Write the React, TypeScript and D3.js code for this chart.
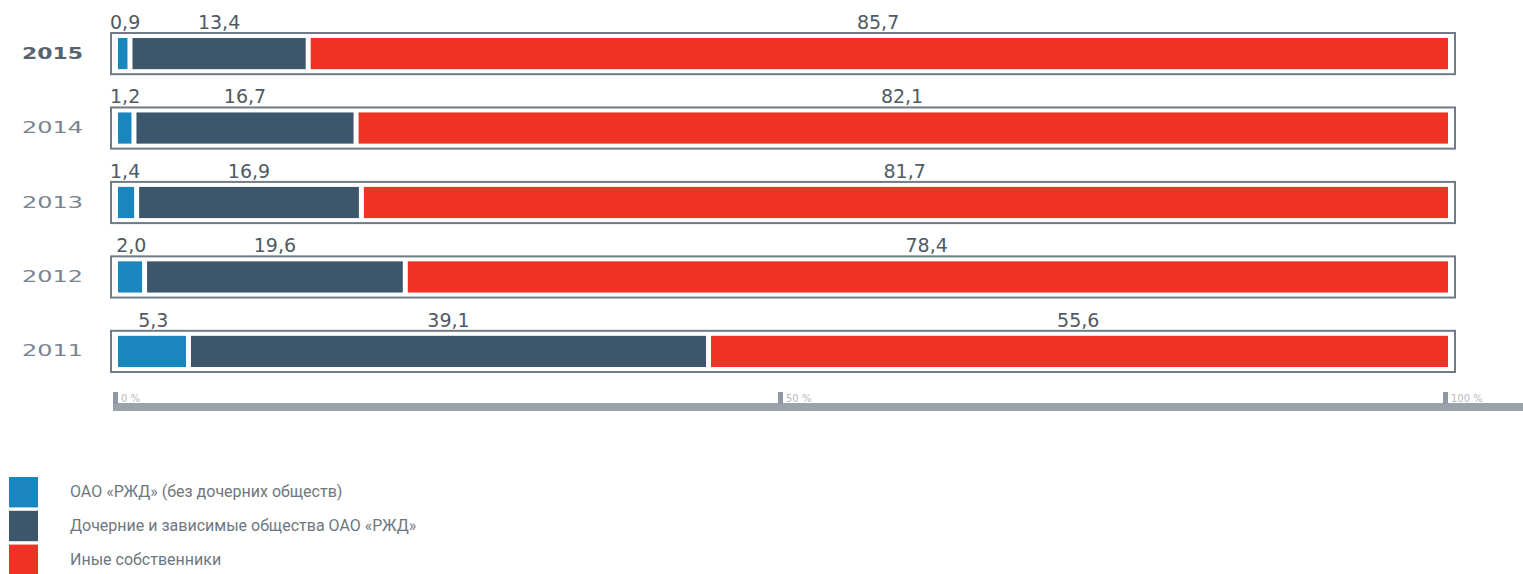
import React from "react";
import * as d3 from "d3";

const years = ["2015", "2014", "2013", "2012", "2011"];
const rzd = [0.9, 1.2, 1.4, 2.0, 5.3];
const subsidiaries = [13.4, 16.7, 16.9, 19.6, 39.1];
const others = [85.7, 82.1, 81.7, 78.4, 55.6];
const seriesNames = [
  "ОАО «РЖД» (без дочерних обществ)",
  "Дочерние и зависимые общества ОАО «РЖД»",
  "Иные собственники",
];
const seriesColors = ["#1a86c0", "#3c566b", "#ee3224"];
const axisTicks = [0, 50, 100];

const W = 1523;
const H = 574;

export default function App() {
  const x = d3.scaleLinear().domain([0, 100]).range([118, 1448]);
  const y = d3.scaleBand().domain(years).range([32, 373]).paddingInner(0.42).paddingOuter(0);
  const bh = y.bandwidth();
  const fmt = (v: number) => v.toFixed(1).replace(".", ",");
  const series = [rzd, subsidiaries, others];
  const legendY = d3.scaleBand().domain(seriesNames).range([477, 575]).paddingInner(0.1);

  return (
    <svg width={W} height={H} style={{ position: "absolute", left: 0, top: 0, background: "#fff" }}>
      {years.map((yr, i) => {
        const top = y(yr)!;
        let cum = 0;
        const segs = series.map((s, k) => {
          const v0 = cum;
          cum += s[i];
          return { k, v0, v1: cum, v: s[i] };
        });
        return (
          <g key={yr}>
            <text
              x={22}
              y={top + bh / 2 + 5}
              fontFamily="DejaVu Sans, sans-serif"
              fontSize={15}
              fontWeight={i === 0 ? 700 : 400}
              fill={i === 0 ? "#59636e" : "#7b848d"}
              textLength={61}
              lengthAdjust="spacingAndGlyphs"
            >
              {yr}
            </text>
            <rect
              x={111}
              y={top + 1}
              width={1344}
              height={bh - 2}
              fill="#fff"
              stroke="#6f7b87"
              strokeWidth={2}
            />
            {segs.map((sg) => {
              const x0 = x(sg.v0) + (sg.k > 0 ? 2.5 : 0);
              const x1 = x(Math.min(sg.v1, 100)) - (sg.k < 2 ? 2.5 : 0);
              return (
                <rect
                  key={sg.k}
                  x={x0}
                  y={top + 6}
                  width={Math.max(0, x1 - x0)}
                  height={bh - 12}
                  fill={seriesColors[sg.k]}
                />
              );
            })}
            {segs.map((sg) => {
              const c = (x(sg.v0) + x(Math.min(sg.v1, 100))) / 2;
              const clamped = c - 18 < 110;
              return (
                <text
                  key={"l" + sg.k}
                  x={clamped ? 110 : c}
                  y={top - 3}
                  textAnchor={clamped ? "start" : "middle"}
                  fontFamily="DejaVu Sans, sans-serif"
                  fontSize={19}
                  fill="#4f5a64"
                >
                  {fmt(sg.v)}
                </text>
              );
            })}
          </g>
        );
      })}
      <rect x={113} y={403} width={W - 113} height={8} fill="#9aa2ac" />
      {axisTicks.map((t) => (
        <g key={t}>
          <rect x={x(t) - 5} y={392} width={5} height={12} fill="#8f98a3" />
          <text
            x={x(t) + 3}
            y={402}
            fontFamily="DejaVu Sans, sans-serif"
            fontSize={10}
            fill="#b3b9c0"
          >
            {t} %
          </text>
        </g>
      ))}
      {seriesNames.map((n, k) => {
        const ly = legendY(n)!;
        return (
          <g key={n}>
            <rect x={9} y={ly} width={29} height={legendY.bandwidth()} fill={seriesColors[k]} />
            <text
              x={70}
              y={ly + legendY.bandwidth() / 2 + 5}
              fontFamily="Roboto, sans-serif"
              fontSize={16}
              fill="#6e7780"
            >
              {n}
            </text>
          </g>
        );
      })}
    </svg>
  );
}
